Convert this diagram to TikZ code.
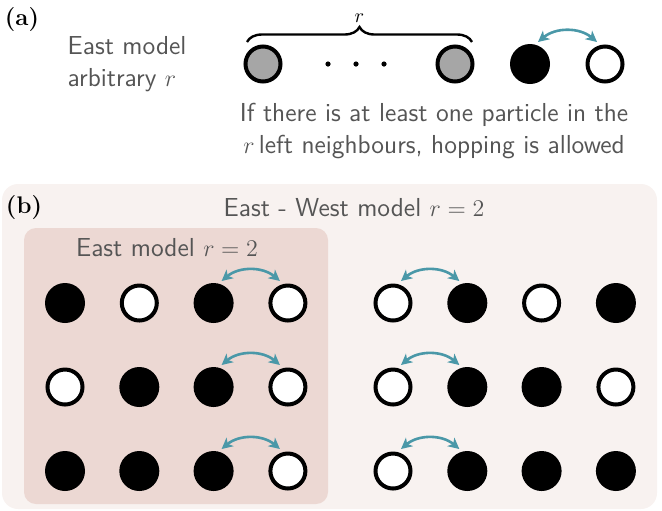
\documentclass[tikz,border=0pt]{standalone}
\usepackage{tikz}
\usetikzlibrary{arrows.meta,positioning,calc,decorations.pathreplacing}
\definecolor{hopteal}{HTML}{4A98A8}
\definecolor{texteG}{HTML}{555555}
\definecolor{fondEW}{HTML}{F8F2F0}
\definecolor{fondE}{HTML}{ECD8D3}
\definecolor{grisP}{HTML}{A6A6A6}
\tikzset{
  plein/.style={circle, fill=black, inner sep=0pt, minimum size=20pt},
  vide/.style={circle, draw=black, fill=white, line width=2pt, inner sep=0pt, minimum size=17.5pt},
  gris/.style={circle, draw=black, fill=grisP, line width=2pt, inner sep=0pt, minimum size=17.5pt},
  point/.style={circle, fill=black, inner sep=0pt, minimum size=2.6pt},
  etiq/.style={font=\sffamily\fontsize{13}{16}\selectfont, text=texteG},
  panneau/.style={font=\bfseries\fontsize{12}{14}\selectfont},
  hop/.style={{Stealth[length=5.5pt,width=5.5pt,inset=1.5pt]}-{Stealth[length=5.5pt,width=5.5pt,inset=1.5pt]}, line width=1.3pt, draw=hopteal},
}
\begin{document}
\begin{tikzpicture}[x=0.5pt, y=-0.5pt]
  \useasboundingbox (0,0) rectangle (662,510);
  % (a) East model, arbitrary r
  \node[panneau] (lbla) at (22,20) {(a)};
  \node[etiq, align=left] (ea) at (127,64) {East model\\arbitrary $r$};
  \node[gris] (g1) at (263,64) {};
  \node[point] (d1) at (328,64) {};
  \node[point] (d2) at (356,64) {};
  \node[point] (d3) at (384,64) {};
  \node[gris] (g2) at (455,64) {};
  \node[plein] (pa) at (530,64) {};
  \node[vide] (va) at (605,64) {};
  \coordinate (br1) at (247,42);
  \coordinate (br2) at (472,42);
  \draw[decorate, decoration={brace, amplitude=7.5pt}, line width=1.2pt] (br1) -- (br2)
    node[midway, above=6pt] (rlab) {$r$};
  \draw[hop] ($(pa)+(8,-22)$) to[bend left=40] ($(va)+(-8,-22)$);
  \node[etiq, align=center] (regle) at (434,131) {If there is at least one particle in the\\$r$\,left neighbours, hopping is allowed};
  % (b) East - West model
  \fill[fondEW, rounded corners=8pt] (2,184) rectangle (657,509);
  \fill[fondE, rounded corners=6pt] (24,228) rectangle (328,504);
  \node[panneau] (lblb) at (24,208) {(b)};
  \node[etiq] (titew) at (354,208) {East - West model $r=2$};
  \node[etiq] (tite) at (167,248) {East model $r=2$};
  \foreach \ligne/\y/\gauche/\droite in {1/303/{plein,vide,plein,vide}/{vide,plein,vide,plein},
                                          2/387/{vide,plein,plein,vide}/{vide,plein,plein,vide},
                                          3/471/{plein,plein,plein,vide}/{vide,plein,plein,plein}}{
    \foreach \s [count=\i] in \gauche
      \node[\s] (l\ligne-\i) at ({65+74.3*(\i-1)},\y) {};
    \foreach \s [count=\i] in \droite
      \node[\s] (r\ligne-\i) at ({393+74.3*(\i-1)},\y) {};
    \draw[hop] ($(l\ligne-3)+(8,-22)$) to[bend left=40] ($(l\ligne-4)+(-8,-22)$);
    \draw[hop] ($(r\ligne-1)+(8,-22)$) to[bend left=40] ($(r\ligne-2)+(-8,-22)$);
  }
\end{tikzpicture}
\end{document}
